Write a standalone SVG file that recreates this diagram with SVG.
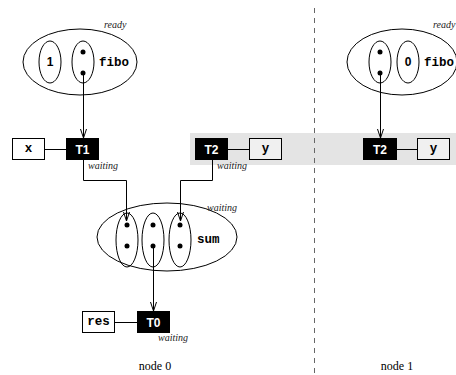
<svg xmlns="http://www.w3.org/2000/svg" width="456" height="375" viewBox="0 0 456 375">
<defs>
<marker id="arrd" markerWidth="8" markerHeight="10" refX="4" refY="9" markerUnits="userSpaceOnUse" viewBox="0 0 8 10" orient="0">
<path d="M1,0 L4,9 L7,0" fill="none" stroke="#000" stroke-width="1"/>
</marker>
</defs>
<style>
.ell{fill:none;stroke:#000;stroke-width:1}
.dot{fill:#000}
.thr{fill:#000;stroke:#000}
.tl{fill:#fff;font-family:"Liberation Sans",Arial,sans-serif;font-weight:bold;font-size:12px;text-anchor:middle}
.box{fill:#fff;stroke:#000;stroke-width:1}
.mono{font-family:"Liberation Mono","Courier New",monospace;font-weight:bold;font-size:12.5px;fill:#000}
.num{font-family:"Liberation Sans",Arial,sans-serif;font-weight:bold;font-size:12px;text-anchor:middle}
.st{font-family:"Liberation Serif","Times New Roman",serif;font-style:italic;font-size:10px;fill:#222}
.lab{font-family:"Liberation Serif","Times New Roman",serif;font-size:12px;fill:#000;text-anchor:middle}
.ln{fill:none;stroke:#000;stroke-width:1}
</style>
<rect x="190" y="133" width="266" height="32" fill="#e4e4e4"/>
<line x1="314.5" y1="8" x2="314.5" y2="375" stroke="#666" stroke-width="1" stroke-dasharray="5,5"/>
<g id="fibo0">
<ellipse class="ell" cx="80" cy="62" rx="57" ry="33"/>
<ellipse class="ell" cx="50" cy="62" rx="11" ry="21"/>
<text class="num" x="50" y="66">1</text>
<ellipse class="ell" cx="83" cy="62" rx="11" ry="21"/>
<circle class="dot" cx="83" cy="52" r="2.5"/>
<circle class="dot" cx="83" cy="73" r="2.5"/>
<text class="mono" x="99" y="66">fibo</text>
<text class="st" x="104" y="28">ready</text>
</g>
<g id="fibo1">
<ellipse class="ell" cx="402" cy="62" rx="55" ry="33"/>
<ellipse class="ell" cx="380" cy="62" rx="11" ry="21"/>
<circle class="dot" cx="380" cy="52" r="2.5"/>
<circle class="dot" cx="380" cy="73" r="2.5"/>
<ellipse class="ell" cx="408" cy="62" rx="11" ry="21"/>
<text class="num" x="408" y="66">0</text>
<text class="mono" x="424" y="66">fibo</text>
<text class="st" x="433" y="28">ready</text>
</g>
<g id="x">
<rect class="box" x="12.5" y="138.5" width="32" height="21"/>
<text class="mono" x="28.5" y="152" text-anchor="middle">x</text>
</g>
<g id="T1">
<rect class="thr" x="66.5" y="138.5" width="32" height="21"/>
<text class="tl" x="82.5" y="153.5">T1</text>
<text class="st" x="88" y="169">waiting</text>
</g>
<g id="T2">
<rect class="thr" x="195.5" y="138.5" width="32" height="21"/>
<text class="tl" x="211.5" y="153.5">T2</text>
<text class="st" x="217" y="169">waiting</text>
</g>
<g id="y">
<rect class="box" x="249.5" y="138.5" width="32" height="21" style="fill:#f0f0f0"/>
<text class="mono" x="265.5" y="152" text-anchor="middle">y</text>
</g>
<g id="T2b">
<rect class="thr" x="363.5" y="138.5" width="33" height="21"/>
<text class="tl" x="380" y="153.5">T2</text>
</g>
<g id="yb">
<rect class="box" x="417.5" y="138.5" width="32" height="21" style="fill:#f0f0f0"/>
<text class="mono" x="433.5" y="152" text-anchor="middle">y</text>
</g>
<g id="sum">
<ellipse class="ell" cx="167" cy="237" rx="70" ry="34"/>
<ellipse class="ell" cx="127" cy="240" rx="11" ry="27"/>
<circle class="dot" cx="127" cy="225" r="2.5"/>
<circle class="dot" cx="127" cy="246" r="2.5"/>
<ellipse class="ell" cx="153" cy="240" rx="11" ry="27"/>
<circle class="dot" cx="153" cy="225" r="2.5"/>
<circle class="dot" cx="153" cy="246" r="2.5"/>
<ellipse class="ell" cx="180" cy="240" rx="11" ry="27"/>
<circle class="dot" cx="180" cy="225" r="2.5"/>
<circle class="dot" cx="180" cy="246" r="2.5"/>
<text class="mono" x="197" y="243">sum</text>
<text class="st" x="207" y="211">waiting</text>
</g>
<g id="res">
<rect class="box" x="82.5" y="311.5" width="32" height="21"/>
<text class="mono" x="98.5" y="325" text-anchor="middle">res</text>
</g>
<g id="T0">
<rect class="thr" x="137.5" y="311.5" width="32" height="21"/>
<text class="tl" x="153.5" y="326.5">T0</text>
<text class="st" x="158" y="341">waiting</text>
</g>
<g id="labels">
<text class="lab" x="155" y="370">node 0</text>
<text class="lab" x="397" y="370">node 1</text>
</g>
<g id="connectors">
<line class="ln" x1="83.5" y1="73" x2="83.5" y2="138" marker-end="url(#arrd)"/>
<line class="ln" x1="380.5" y1="73" x2="380.5" y2="138" marker-end="url(#arrd)"/>
<line class="ln" x1="44.5" y1="149.5" x2="66.5" y2="149.5"/>
<line class="ln" x1="227.5" y1="149.5" x2="249.5" y2="149.5"/>
<line class="ln" x1="396.5" y1="149.5" x2="417.5" y2="149.5"/>
<line class="ln" x1="114.5" y1="322.5" x2="137.5" y2="322.5"/>
<polyline class="ln" points="83.5,160 83.5,180.5 126.5,180.5 126.5,221" marker-end="url(#arrd)"/>
<polyline class="ln" points="212.5,160 212.5,180.5 180.5,180.5 180.5,221" marker-end="url(#arrd)"/>
<line class="ln" x1="153.5" y1="246" x2="153.5" y2="311" marker-end="url(#arrd)"/>
</g>
</svg>
